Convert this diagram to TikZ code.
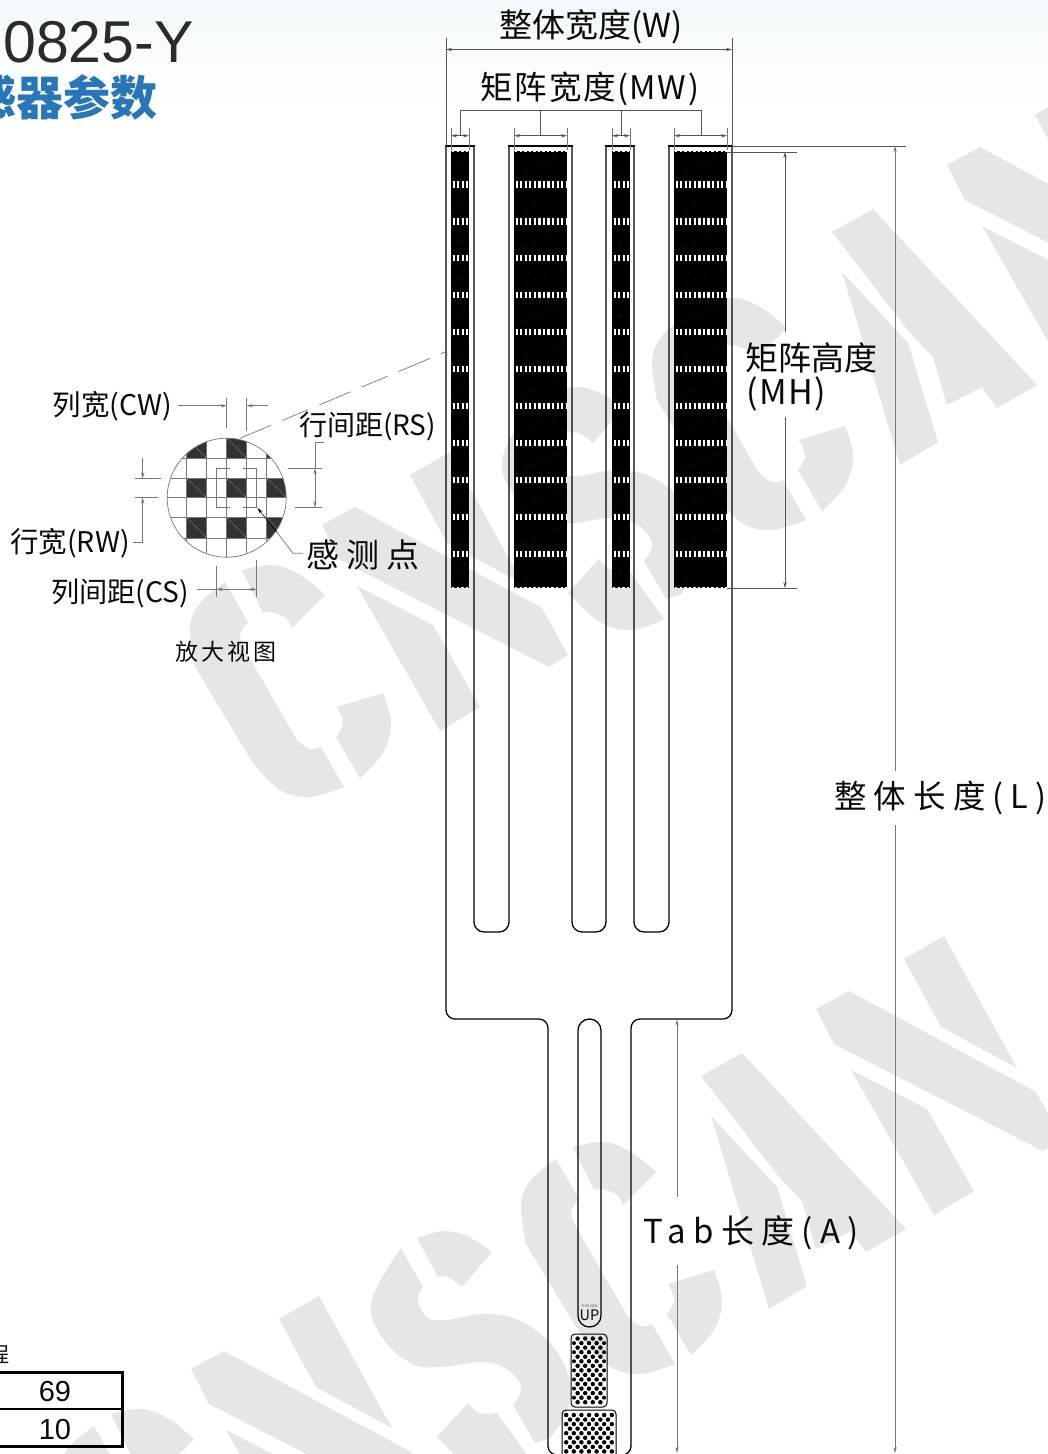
\documentclass[tikz,border=0pt]{standalone}
\usepackage{fontspec}
\setmainfont{Noto Sans CJK SC}
\newfontfamily\cjksp[LetterSpace=12]{Noto Sans CJK SC}
\newfontfamily\cjkspb[LetterSpace=22]{Noto Sans CJK SC}
\newfontfamily\cjkspc[LetterSpace=5]{Noto Sans CJK SC}
\newfontfamily\arialf{Liberation Sans}
\usetikzlibrary{arrows.meta}
\definecolor{wm}{HTML}{E6E6E6}
\definecolor{dimc}{HTML}{555555}
\definecolor{thinc}{HTML}{777777}
\definecolor{ink}{HTML}{0A0A0A}
\definecolor{titleblue}{HTML}{2777B8}
\definecolor{titlegray}{HTML}{2B2B2B}
\definecolor{cellc}{HTML}{333333}
\definecolor{faintc}{HTML}{1E1E1E}
\definecolor{topblue}{HTML}{F3F9FC}
\tikzset{
  lab/.style={inner sep=0pt,outer sep=0pt,text=ink,font=\fontsize{#1}{#1}\selectfont},
  labsp/.style={inner sep=0pt,outer sep=0pt,text=ink,font=\cjksp\fontsize{#1}{#1}\selectfont},
  labspb/.style={inner sep=0pt,outer sep=0pt,text=ink,font=\cjkspb\fontsize{#1}{#1}\selectfont},
  labspc/.style={inner sep=0pt,outer sep=0pt,text=ink,font=\cjkspc\fontsize{#1}{#1}\selectfont},
  outline/.style={draw=black,line width=1.3pt},
  dimline/.style={draw=dimc,line width=0.8pt},
  thinline/.style={draw=thinc,line width=0.7pt},
  tip2/.style={{Stealth[length=6pt,width=3.4pt]}-{Stealth[length=6pt,width=3.4pt]}},
  tipe/.style={-{Stealth[length=6pt,width=3.4pt]}},
  pad/.style={draw=black,line width=1pt,rounded corners=4pt},
}
\newcommand{\wmC}{%
  \fill[wm] (242,570) -- plot[smooth,tension=.6] coordinates {(242,570)(273,565)(300,575)(325,595)} -- (292,628) -- plot[smooth,tension=.6] coordinates {(292,628)(285,617)(270,612)(263,613)} -- cycle;
  \fill[wm] (225,582) -- (248,622) -- plot[smooth,tension=.7] coordinates {(248,622)(240,635)(245,650)} -- (297,740) -- plot[smooth,tension=.7] coordinates {(297,740)(310,749)(321,747)} -- (344,787) -- plot[smooth,tension=.6] coordinates {(344,787)(310,797)(280,790)(253,763)} -- (195,667) -- plot[smooth,tension=.6] coordinates {(195,667)(190,627)(200,603)(225,582)} -- cycle;
  \fill[wm] (337,707) -- (383,693) -- plot[smooth,tension=.6] coordinates {(383,693)(391,723)(383,753)(360,778)} -- (336,737) -- plot[smooth,tension=.7] coordinates {(336,737)(343,723)(337,707)} -- cycle;
}
\newcommand{\wmN}{%
  \fill[wm] (322,525) -- (355,507) -- (542,608) -- (568,655) -- (549,667) -- (340,560) -- cycle;
  \fill[wm] (357,586) -- (433,625) -- (480,707) -- (440,731) -- cycle;
  \fill[wm] (410,475) -- (450,452) -- (523,584) -- (447,543) -- cycle;
}
\newcommand{\wmS}{%
  \fill[wm] (548,394) -- plot[smooth,tension=.6] coordinates {(548,394)(575,387)(600,393)(623,408)} -- (593,443) -- plot[smooth,tension=.7] coordinates {(593,443)(579,433)(569,433)} -- cycle;
  \fill[wm] (532,404) -- (554,443) -- plot[smooth,tension=.7] coordinates {(554,443)(549,456)(558,473)(577,476)(624,470)(665,485)(695,520)(700,560)(681,594)} -- (666,599) -- (644,561) -- plot[smooth,tension=.7] coordinates {(644,561)(652,543)(636,524)(611,518)(571,523)(542,519)(513,493)(503,456)(532,404)} -- cycle;
  \fill[wm] (568,593) -- (599,559) -- plot[smooth,tension=.7] coordinates {(599,559)(610,569)(628,569)} -- (664,619) -- plot[smooth,tension=.6] coordinates {(664,619)(632,630)(600,622)(568,593)} -- cycle;
}
\newcommand{\wmA}{%
  \fill[wm] (832,232) -- (873,209) -- (1037,385) -- (997,408) -- (982,387) -- (947,405) -- (933,357) -- (910,333) -- cycle;
  \fill[wm] (842,272) -- (908,343) -- (938,442) -- (900,465) -- cycle;
}
\newcommand{\wmAll}{%
  \wmC
  \wmN
  \wmS
  \begin{scope}[shift={(462,-267)}]\wmC\end{scope}
  \wmA
  \begin{scope}[shift={(625,-360)}]\wmN\end{scope}
}
\begin{document}
\begin{tikzpicture}[x=1pt,y=-1pt]
\useasboundingbox (0,0) rectangle (1048,1454);
\clip (0,0) rectangle (1048,1454);
\fill[white] (0,0) rectangle (1048,1454);
\shade[top color=topblue,bottom color=white,draw=none] (0,0) rectangle (1048,110);
% watermark
\wmAll
\begin{scope}[shift={(-131,844)}]\wmAll\end{scope}
% title
\node[anchor=base west,inner sep=0pt,text=titlegray,font=\arialf\fontsize{59}{59}\selectfont] (title) at (3,62) {0825-Y};
\node[anchor=east,inner sep=0pt,text=titleblue,font=\bfseries\fontsize{47}{47}\selectfont] (subtitle) at (158,97) {感器参数};
% sensor outline
\draw[outline,rounded corners=9pt,line join=round]
  (446,146) -- (446,1019) -- (548,1019) -- (548,1455) -- (631,1455) -- (631,1019) -- (732,1019) -- (732,146);
\draw[outline,rounded corners=10pt,line join=round] (474,146) -- (474,932) -- (509,932) -- (509,146);
\draw[outline,rounded corners=10pt,line join=round] (572,146) -- (572,932) -- (606,932) -- (606,146);
\draw[outline,rounded corners=10pt,line join=round] (634,146) -- (634,932) -- (669,932) -- (669,146);
\draw[outline] (445.35,146) -- (474.65,146);
\draw[outline] (508.35,146) -- (572.65,146);
\draw[outline] (605.35,146) -- (634.65,146);
\draw[outline] (668.35,146) -- (732.65,146);
% tail slot
\draw[outline,rounded corners=11.4pt] (578,1019) rectangle (601,1327);
\node[inner sep=0pt,text=ink,font=\fontsize{14.5}{14.5}\selectfont] (up) at (589.5,1315.5) {UP};
\node[inner sep=0pt,text=dimc,font=\fontsize{3.6}{3.6}\selectfont] (thisside) at (589.5,1306.5) {THIS SIDE};
% pads
\draw[pad] (571,1334) rectangle (607,1407);
\draw[pad] (562,1410) rectangle (616,1470);
\foreach \r in {0,2,...,14} \foreach \c in {577.6,585.2,592.8,600.4} \fill[black] (\c,1338.5+4.55*\r) circle[radius=2.25];
\foreach \r in {1,3,...,13} \foreach \c in {581.4,589,596.6} \fill[black] (\c,1338.5+4.55*\r) circle[radius=2.25];
\foreach \r in {1,3,...,13} \foreach \c in {574,604} \fill[black] (\c,1338.5+4.55*\r) circle[radius=2];
\foreach \r in {0,2,...,8} \foreach \c in {566.2,573.8,581.4,589,596.6,604.2,611.8} \fill[black] (\c,1415+4.55*\r) circle[radius=2.25];
\foreach \r in {1,3,...,7} \foreach \c in {570,577.6,585.2,592.8,600.4,608} \fill[black] (\c,1415+4.55*\r) circle[radius=2.25];
% matrix blocks
\foreach \xa/\xb in {451/469,514/567,612/630,674/727} {
  \fill[black] (\xa,150.5) rectangle (\xb,587.5);
  \draw[white,line width=0.6pt,dash pattern=on 2.4pt off 2.15pt] (\xa+1,151) -- (\xb,151);
  \draw[white,line width=0.6pt,dash pattern=on 2.4pt off 2.15pt] (\xa+1,587.4) -- (\xb,587.4);
  \foreach \k in {0,...,10} {
    \draw[white,line width=6.5pt,dash pattern=on 2.2pt off 2.35pt] (\xa+1.6,184.3+36.97*\k) -- (\xb-1.2,184.3+36.97*\k);
    \draw[faintc,line width=0.3pt,dash pattern=on 5pt off 5pt] (\xa+1,179+36.97*\k) -- (\xb-1,153+36.97*\k);
  }
  \draw[faintc,line width=0.3pt,dash pattern=on 5pt off 5pt] (\xa+1,584) -- (\xb-1,560);
}
% W dimension
\coordinate (wl) at (446,38); \coordinate (wlb) at (446,146);
\coordinate (wr) at (732,38); \coordinate (wrb) at (732,146);
\draw[dimline] (wl) -- (wlb); \draw[dimline] (wr) -- (wrb);
\draw[dimline,tip2] (446,49.5) -- (732,49.5);
\node[lab=33] (wlab) at (591,27) {整体宽度(W)};
% MW
\node[labspc=32.5] (mwlab) at (590,88.5) {矩阵宽度(MW)};
\draw[dimline] (460,135.7) -- (460,110.7) -- (701,110.7) -- (701,135.7);
\draw[dimline] (540,110.7) -- (540,135.7);
\draw[dimline] (621,110.7) -- (621,135.7);
\foreach \xa/\xb in {451/469,514/567,612/630,674/727} {
  \draw[thinline] (\xa,128) -- (\xa,150);
  \draw[thinline] (\xb,128) -- (\xb,150);
  \draw[dimline,tip2] (\xa,135.7) -- (\xb,135.7);
}
% MH
\node[lab=33,anchor=west] (mhlab1) at (745,358) {矩阵高度};
\node[labspc=34,anchor=west] (mhlab2) at (746,394) {(MH)};
\coordinate (mht) at (785,152); \coordinate (mhb) at (785,588);
\coordinate (mhu) at (785,332); \coordinate (mhd) at (785,417);
\draw[dimline] (727,152) -- (797,152);
\draw[dimline] (727,588) -- (797,588);
\draw[dimline,tipe] (mhu) -- (mht);
\draw[dimline,tipe] (mhd) -- (mhb);
% L
\draw[dimline] (732,146) -- (906,146);
\node[labspb=32.5] (llab) at (940.5,798) {整体长度(L)};
\coordinate (lt) at (895,146); \coordinate (lb) at (895,1453);
\coordinate (lu) at (895,771); \coordinate (ld) at (895,825);
\draw[thinline,tipe] (lu) -- (lt);
\draw[thinline,tipe] (ld) -- (lb);
% A
\node[labspb=33] (alab) at (751,1233) {Tab长度(A)};
\coordinate (at) at (677,1019.5); \coordinate (ab) at (677,1453);
\coordinate (au) at (677,1197); \coordinate (ad) at (677,1265);
\draw[thinline,tipe] (au) -- (at);
\draw[thinline,tipe] (ad) -- (ab);
% detail view
\coordinate (cc) at (226.7,497.7);
\begin{scope}
  \clip (cc) circle[radius=59.5];
  \foreach \xa/\xb/\ya/\yb in {186.7/206.7/438/458.3,226.7/246.7/438/458.3,266.7/287/438/458.3,186.7/206.7/478.3/497.7,226.7/246.7/478.3/497.7,266.7/287/478.3/497.7,186.7/206.7/517.5/538,226.7/246.7/517.5/538,266.7/287/517.5/538} {
    \fill[cellc] (\xa,\ya) rectangle (\xb,\yb);
    \draw[thinc,line width=0.4pt] (\xa,\ya) -- (\xb,\yb);
  }
  \foreach \x in {186.7,206.7,226.7,246.7,266.7} \draw[thinline,line width=0.6pt] (\x,430) -- (\x,560);
  \foreach \y in {458.3,478.3,497.7,517.5,538} \draw[thinline,line width=0.6pt] (160,\y) -- (290,\y);
\end{scope}
\draw[thinline] (cc) circle[radius=59.5];
\draw[thinline] (230.3,468.3) -- (216.7,468.3) -- (216.7,507.3) -- (230.3,507.3);
\draw[thinline] (242.7,468.3) -- (256.7,468.3) -- (256.7,507.3) -- (242.7,507.3);
% leader to sensor
\coordinate (lead1) at (240,438.3); \coordinate (lead2) at (446,351.6);
\draw[thinline,dash pattern=on 34pt off 12pt on 28pt off 12pt] (lead1) -- (lead2);
% CW
\node[lab=28.5] (cwlab) at (112.5,406.5) {列宽(CW)};
\draw[thinline] (226.7,398) -- (226.7,428);
\draw[thinline] (246.7,398) -- (246.7,431);
\draw[thinline,tipe] (178,405.7) -- (226.7,405.7);
\draw[thinline,tipe] (267.7,405.7) -- (246.7,405.7);
% RS
\node[lab=28] (rslab) at (367.5,426.5) {行间距(RS)};
\draw[thinline] (288,468.3) -- (322,468.3);
\draw[thinline] (295,507.3) -- (322,507.3);
\draw[thinline] (324.3,442.3) -- (315,442.3) -- (315,468.3);
\draw[thinline,tip2] (315,468.3) -- (315,507.3);
% RW
\node[lab=28.5] (rwlab) at (70,543) {行宽(RW)};
\draw[thinline] (135,478.3) -- (161,478.3);
\draw[thinline] (135,497.7) -- (158,497.7);
\draw[thinline,tipe] (142.7,458.3) -- (142.7,478.3);
\draw[thinline,tipe] (133,542.3) -- (142.7,542.3) -- (142.7,497.7);
% CS
\node[lab=28.2] (cslab) at (120,593.5) {列间距(CS)};
\draw[thinline] (216.7,566) -- (216.7,597);
\draw[thinline] (256.7,559.5) -- (256.7,597);
\draw[thinline] (196.7,589.3) -- (216.7,589.3);
\draw[thinline,tip2] (216.7,589.3) -- (256.7,589.3);
% sensing point
\node[labspb=33] (senselab) at (363,555) {感测点};
\draw[thinline] (303,553.3) -- (293,553.3) -- (276.7,532);
\draw[draw=black,line width=0.6pt,tipe] (276.7,532) -- (257.5,508);
\node[labsp=23] (zoomlab) at (226,652) {放大视图};
% table
\node[anchor=east,inner sep=0pt,text=ink,font=\fontsize{21}{21}\selectfont] (prog) at (10,1355) {程};
\draw[black,line width=2pt] (-5,1408.5) -- (122,1408.5);
\draw[black,line width=3pt] (-5,1372) -- (122,1372) -- (122,1446) -- (-5,1446);
\node[inner sep=0pt,text=ink,font=\arialf\fontsize{29}{29}\selectfont] (v69) at (55,1391.5) {69};
\node[inner sep=0pt,text=ink,font=\arialf\fontsize{29}{29}\selectfont] (v10) at (55,1429.5) {10};
\end{tikzpicture}
\end{document}
